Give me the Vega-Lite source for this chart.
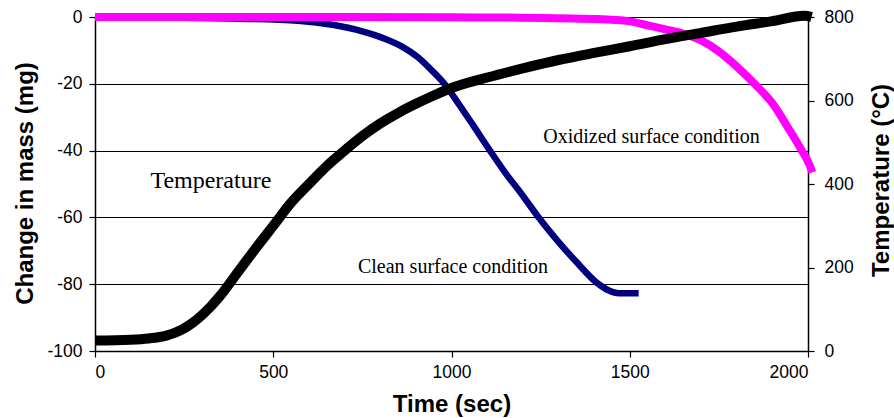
{
  "$schema": "https://vega.github.io/schema/vega-lite/v6.json",
  "width": 713,
  "height": 334,
  "autosize": {"type": "none"},
  "padding": {"left": 95, "top": 17, "right": 86, "bottom": 67},
  "background": "white",
  "config": {
    "view": {"stroke": null},
    "axis": {
      "labelFont": "Liberation Sans",
      "labelFontSize": 17.5,
      "labelColor": "#000000",
      "titleFont": "Liberation Sans",
      "titleFontSize": 24,
      "titleFontWeight": "bold",
      "titleColor": "#000000",
      "domainColor": "#000000",
      "domainWidth": 1.5,
      "tickColor": "#000000",
      "tickWidth": 1.2,
      "tickSize": 6,
      "gridColor": "#000000",
      "gridWidth": 1,
      "gridOpacity": 1
    }
  },
  "datasets": {
    "mass": [
      {"series": "Clean", "t": 0, "mass": 0},
      {"series": "Clean", "t": 200, "mass": -0.2},
      {"series": "Clean", "t": 400, "mass": -0.5},
      {"series": "Clean", "t": 570, "mass": -1.1},
      {"series": "Clean", "t": 670, "mass": -2.4},
      {"series": "Clean", "t": 750, "mass": -4.3},
      {"series": "Clean", "t": 810, "mass": -6.4},
      {"series": "Clean", "t": 860, "mass": -8.8},
      {"series": "Clean", "t": 905, "mass": -12},
      {"series": "Clean", "t": 940, "mass": -15.5},
      {"series": "Clean", "t": 980, "mass": -20},
      {"series": "Clean", "t": 1020, "mass": -26},
      {"series": "Clean", "t": 1060, "mass": -32.3},
      {"series": "Clean", "t": 1108, "mass": -40},
      {"series": "Clean", "t": 1150, "mass": -46.5},
      {"series": "Clean", "t": 1200, "mass": -53.5},
      {"series": "Clean", "t": 1243, "mass": -59.8},
      {"series": "Clean", "t": 1300, "mass": -67.3},
      {"series": "Clean", "t": 1350, "mass": -73.3},
      {"series": "Clean", "t": 1408, "mass": -79.6},
      {"series": "Clean", "t": 1440, "mass": -81.8},
      {"series": "Clean", "t": 1470, "mass": -82.7},
      {"series": "Clean", "t": 1525, "mass": -82.7},
      {"series": "Oxidized", "t": 0, "mass": 0},
      {"series": "Oxidized", "t": 500, "mass": 0},
      {"series": "Oxidized", "t": 1000, "mass": -0.1},
      {"series": "Oxidized", "t": 1200, "mass": -0.2},
      {"series": "Oxidized", "t": 1400, "mass": -0.6},
      {"series": "Oxidized", "t": 1500, "mass": -1.3},
      {"series": "Oxidized", "t": 1550, "mass": -2.5},
      {"series": "Oxidized", "t": 1600, "mass": -3.7},
      {"series": "Oxidized", "t": 1650, "mass": -5},
      {"series": "Oxidized", "t": 1700, "mass": -7},
      {"series": "Oxidized", "t": 1750, "mass": -10.3},
      {"series": "Oxidized", "t": 1800, "mass": -14.8},
      {"series": "Oxidized", "t": 1850, "mass": -20},
      {"series": "Oxidized", "t": 1900, "mass": -25.8},
      {"series": "Oxidized", "t": 1950, "mass": -34.2},
      {"series": "Oxidized", "t": 1980, "mass": -39.5},
      {"series": "Oxidized", "t": 2005, "mass": -44.5},
      {"series": "Oxidized", "t": 2012, "mass": -46.5}
    ],
    "temp": [
      {"t": 0, "temp": 25},
      {"t": 100, "temp": 27},
      {"t": 150, "temp": 30},
      {"t": 200, "temp": 37},
      {"t": 225, "temp": 44},
      {"t": 250, "temp": 54},
      {"t": 275, "temp": 68},
      {"t": 300, "temp": 86},
      {"t": 325, "temp": 107},
      {"t": 350, "temp": 131},
      {"t": 400, "temp": 188},
      {"t": 450, "temp": 245},
      {"t": 500, "temp": 300},
      {"t": 550, "temp": 355},
      {"t": 600, "temp": 400},
      {"t": 650, "temp": 443},
      {"t": 700, "temp": 480},
      {"t": 750, "temp": 515},
      {"t": 800, "temp": 545},
      {"t": 850, "temp": 570},
      {"t": 900, "temp": 592},
      {"t": 950, "temp": 612},
      {"t": 1000, "temp": 630},
      {"t": 1100, "temp": 655},
      {"t": 1200, "temp": 677},
      {"t": 1300, "temp": 697},
      {"t": 1400, "temp": 714},
      {"t": 1500, "temp": 730},
      {"t": 1600, "temp": 747},
      {"t": 1700, "temp": 762},
      {"t": 1800, "temp": 777},
      {"t": 1900, "temp": 790},
      {"t": 1990, "temp": 803},
      {"t": 2010, "temp": 800}
    ],
    "labels": [
      {"label": "Temperature", "t": 325, "m": -51.3, "size": "big"},
      {"label": "Oxidized surface condition", "t": 1561, "m": -37.7, "size": "small"},
      {"label": "Clean surface condition", "t": 1004, "m": -76.7, "size": "small"}
    ]
  },
  "encoding": {
    "x": {
      "field": "t",
      "type": "quantitative",
      "scale": {"domain": [0, 2000], "nice": false, "zero": false},
      "axis": {
        "values": [0, 500, 1000, 1500, 2000],
        "grid": false,
        "labelPadding": 6,
        "labelExpr": "'' + datum.value",
        "title": "Time (sec)",
        "titleY": 41,
        "titleBaseline": "top"
      }
    }
  },
  "layer": [
    {
      "layer": [
        {
          "data": {"name": "mass"},
          "mark": {"type": "line", "strokeCap": "butt", "clip": false, "interpolate": "monotone"},
          "encoding": {
            "y": {
              "field": "mass",
              "type": "quantitative",
              "scale": {"domain": [-100, 0], "nice": false, "zero": false},
              "axis": {
                "values": [-100, -80, -60, -40, -20, 0],
                "grid": true,
                "labelPadding": 7,
                "labelExpr": "'' + datum.value",
                "title": "Change in mass (mg)",
                "titleAngle": 270,
                "titleX": -58,
                "titleY": 166,
                "titleAlign": "center",
                "titleBaseline": "bottom"
              }
            },
            "color": {
              "field": "series",
              "type": "nominal",
              "scale": {"domain": ["Clean", "Oxidized"], "range": ["#000080", "#FF00FF"]},
              "legend": null
            },
            "strokeWidth": {
              "field": "series",
              "type": "nominal",
              "scale": {"domain": ["Clean", "Oxidized"], "range": [6.5, 8]},
              "legend": null
            }
          }
        },
        {
          "data": {"name": "labels"},
          "mark": {"type": "text", "font": "Liberation Serif", "color": "#000000", "align": "center", "baseline": "alphabetic"},
          "encoding": {
            "y": {"field": "m", "type": "quantitative"},
            "text": {"field": "label"},
            "size": {
              "field": "size",
              "type": "nominal",
              "scale": {"domain": ["big", "small"], "range": [24, 20]},
              "legend": null
            }
          }
        }
      ]
    },
    {
      "data": {"name": "temp"},
      "mark": {"type": "line", "color": "#000000", "strokeWidth": 10, "clip": false, "interpolate": "monotone"},
      "encoding": {
        "y": {
          "field": "temp",
          "type": "quantitative",
          "scale": {"domain": [0, 800], "nice": false, "zero": false},
          "axis": {
            "orient": "right",
            "values": [0, 200, 400, 600, 800],
            "grid": false,
            "labelPadding": 10,
            "title": "Temperature (°C)",
            "titleAngle": 270,
            "titleX": 61,
            "titleY": 163,
            "titleAlign": "center",
            "titleBaseline": "top"
          }
        }
      }
    }
  ],
  "resolve": {"scale": {"y": "independent"}}
}
